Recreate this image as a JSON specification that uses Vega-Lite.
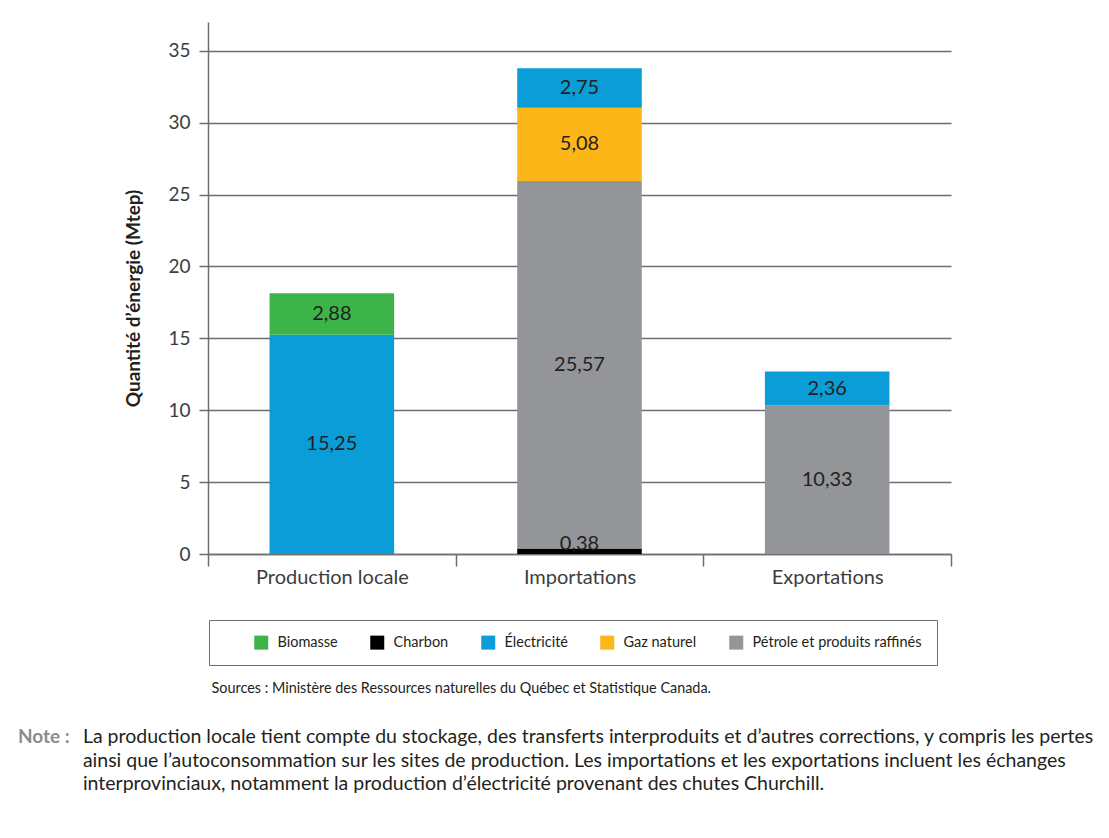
{
  "$schema": "https://vega.github.io/schema/vega-lite/v6.json",
  "autosize": {"type": "none"},
  "width": 743,
  "height": 532,
  "padding": {"left": 208, "top": 22, "right": 158, "bottom": 284},
  "background": "white",
  "title": {
    "text": "Note :",
    "subtitle": [
      "\u200b\u00a0\u00a0\u00a0\u00a0\u00a0\u00a0\u00a0\u00a0\u00a0\u00a0\u00a0\u00a0\u00a0La production locale tient compte du stockage, des transferts interproduits et d’autres corrections, y compris les pertes",
      "\u200b\u00a0\u00a0\u00a0\u00a0\u00a0\u00a0\u00a0\u00a0\u00a0\u00a0\u00a0\u00a0\u00a0ainsi que l’autoconsommation sur les sites de production. Les importations et les exportations incluent les échanges",
      "\u200b\u00a0\u00a0\u00a0\u00a0\u00a0\u00a0\u00a0\u00a0\u00a0\u00a0\u00a0\u00a0\u00a0interprovinciaux, notamment la production d’électricité provenant des chutes Churchill."
    ],
    "orient": "bottom",
    "anchor": "start",
    "frame": "group",
    "dx": -190,
    "offset": 34,
    "font": "Lato",
    "fontSize": 19,
    "fontWeight": "bold",
    "color": "#8a8c8e",
    "subtitleFont": "Lato",
    "subtitleFontSize": 19.5,
    "subtitleColor": "#231f20",
    "subtitlePadding": -19,
    "subtitleLineHeight": 23.5
  },
  "data": {
    "values": [
      {"flux": "Production locale", "source": "Électricité", "valeur": 15.25},
      {"flux": "Production locale", "source": "Biomasse", "valeur": 2.88},
      {"flux": "Importations", "source": "Charbon", "valeur": 0.38},
      {"flux": "Importations", "source": "Pétrole et produits raffinés", "valeur": 25.57},
      {"flux": "Importations", "source": "Gaz naturel", "valeur": 5.08},
      {"flux": "Importations", "source": "Électricité", "valeur": 2.75},
      {"flux": "Exportations", "source": "Pétrole et produits raffinés", "valeur": 10.33},
      {"flux": "Exportations", "source": "Électricité", "valeur": 2.36}
    ]
  },
  "transform": [
    {"calculate": "indexof(['Charbon', 'Pétrole et produits raffinés', 'Gaz naturel', 'Électricité', 'Biomasse'], datum.source)", "as": "rang"},
    {"stack": "valeur", "groupby": ["flux"], "sort": [{"field": "rang", "order": "ascending"}], "as": ["bas", "haut"]},
    {"calculate": "(datum.bas + datum.haut) / 2", "as": "milieu"}
  ],
  "encoding": {
    "x": {
      "field": "flux",
      "type": "nominal",
      "sort": ["Production locale", "Importations", "Exportations"],
      "scale": {"paddingInner": 0, "paddingOuter": 0},
      "axis": {
        "title": "Sources : Ministère des Ressources naturelles du Québec et Statistique Canada.",
        "titleFont": "Lato",
        "titleFontSize": 14.4,
        "titleFontWeight": "normal",
        "titleColor": "#231f20",
        "titleAnchor": "start",
        "titleAlign": "left",
        "titleBaseline": "top",
        "titleX": 3,
        "titleY": 127,
        "labelAngle": 0,
        "labelFont": "Lato",
        "labelFontSize": 20,
        "labelColor": "#3d3d3f",
        "labelPadding": 1,
        "tickBand": "extent",
        "tickSize": 12,
        "tickWidth": 1.5,
        "tickColor": "#6d6e71",
        "domainColor": "#6d6e71",
        "domainWidth": 1.5,
        "grid": false
      }
    }
  },
  "layer": [
    {
      "mark": {"type": "bar", "width": {"band": 0.503}},
      "encoding": {
        "y": {
          "field": "bas",
          "type": "quantitative",
          "title": "Quantité d’énergie (Mtep)",
          "scale": {"domain": [0, 37], "nice": false},
          "axis": {
            "values": [0, 5, 10, 15, 20, 25, 30, 35],
            "grid": true,
            "gridColor": "#6d6e71",
            "gridWidth": 1.5,
            "tickSize": 9,
            "tickWidth": 1.5,
            "tickColor": "#6d6e71",
            "domainColor": "#6d6e71",
            "domainWidth": 1.5,
            "labelFont": "Lato",
            "labelFontSize": 19,
            "labelColor": "#3d3d3f",
            "labelPadding": 9,
            "titleFont": "Lato",
            "titleFontSize": 19,
            "titleFontWeight": "bold",
            "titleColor": "#231f20",
            "titlePadding": 24,
            "titleY": 276
          }
        },
        "y2": {"field": "haut"},
        "color": {
          "field": "source",
          "type": "nominal",
          "scale": {
            "domain": ["Biomasse", "Charbon", "Électricité", "Gaz naturel", "Pétrole et produits raffinés"],
            "range": ["#3cb44a", "#000000", "#0b9dd8", "#fcb617", "#939598"]
          },
          "legend": {
            "orient": "none",
            "legendX": 1,
            "legendY": 598,
            "direction": "horizontal",
            "title": null,
            "strokeColor": "#6d6e71",
            "fillColor": "white",
            "padding": 15,
            "symbolType": "square",
            "symbolSize": 196,
            "symbolStrokeWidth": 0,
            "symbolOpacity": 1,
            "symbolOffset": 30,
            "labelFont": "Lato",
            "labelFontSize": 14.5,
            "labelLimit": 400,
            "labelColor": "#231f20",
            "labelOffset": 9,
            "columnPadding": 2
          }
        }
      }
    },
    {
      "transform": [{"filter": "datum.source !== 'Charbon'"}],
      "mark": {"type": "text", "font": "Lato", "fontSize": 20, "color": "#231f20", "baseline": "middle"},
      "encoding": {
        "y": {"field": "milieu", "type": "quantitative", "title": "Quantité d’énergie (Mtep)"},
        "text": {"field": "valeur", "type": "quantitative", "format": ".2f"}
      }
    },
    {
      "transform": [{"filter": "datum.source === 'Charbon'"}],
      "mark": {"type": "text", "font": "Lato", "fontSize": 20, "color": "#231f20", "baseline": "alphabetic", "dy": 1},
      "encoding": {
        "y": {"field": "haut", "type": "quantitative", "title": "Quantité d’énergie (Mtep)"},
        "text": {"field": "valeur", "type": "quantitative", "format": ".2f"}
      }
    }
  ],
  "config": {
    "view": {"stroke": null},
    "locale": {
      "number": {"decimal": ",", "thousands": " ", "grouping": [3], "currency": ["", " $"]}
    }
  }
}
